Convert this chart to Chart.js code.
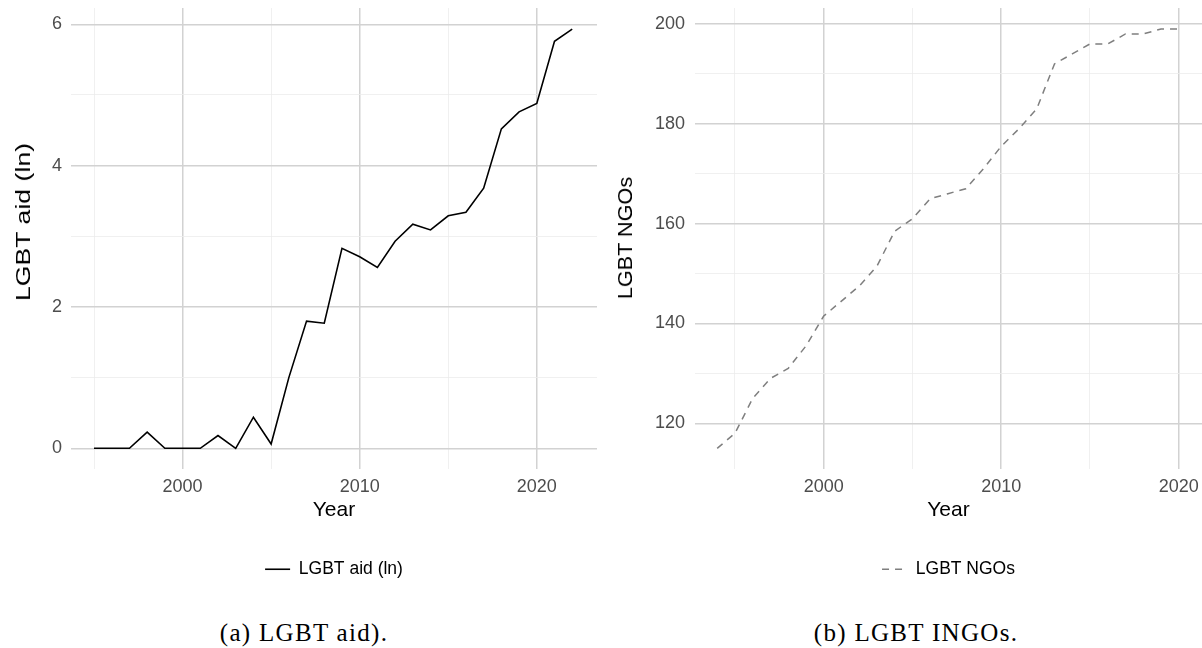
<!DOCTYPE html>
<html>
<head>
<meta charset="utf-8">
<title>LGBT aid and LGBT NGOs</title>
<script src="https://cdn.jsdelivr.net/npm/chart.js@4.4.1/dist/chart.umd.min.js"></script>
<style>
  body { margin: 0; background: #fff; width: 1202px; height: 648px; position: relative; overflow: hidden; }
  canvas { position: absolute; top: 0; }
  #aid-chart { left: 0; }
  #ngo-chart { left: 600px; }
  .y-title {
    position: absolute; white-space: nowrap; color: #000;
    font-family: "Liberation Sans", Arial, sans-serif; font-size: 21px; line-height: 24px;
  }
  .caption {
    position: absolute; top: 618px; width: 400px; text-align: center;
    font-family: "Liberation Serif", "Times New Roman", serif;
    font-size: 25px; line-height: 30px; letter-spacing: 1.3px; color: #000;
  }
</style>
</head>
<body>
<canvas id="aid-chart" width="600" height="588"></canvas>
<canvas id="ngo-chart" width="602" height="588"></canvas>
<div class="y-title" style="left:23px; top:222px; transform: translate(-50%, -50%) rotate(-90deg) scaleX(1.27);">LGBT aid (ln)</div>
<div class="y-title" style="left:625px; top:238px; transform: translate(-50%, -50%) rotate(-90deg) scaleX(1.03);">LGBT NGOs</div>
<div class="caption" style="left:104px">(a) LGBT aid).</div>
<div class="caption" style="left:716px">(b) LGBT INGOs.</div>
<script>
const aidYears = [1995, 1996, 1997, 1998, 1999, 2000, 2001, 2002, 2003, 2004, 2005, 2006, 2007, 2008,
                  2009, 2010, 2011, 2012, 2013, 2014, 2015, 2016, 2017, 2018, 2019, 2020, 2021, 2022];
const aidValues = [0, 0, 0, 0.23, 0, 0, 0, 0.18, 0, 0.44, 0.06, 1.0, 1.80, 1.77,
                   2.83, 2.71, 2.56, 2.93, 3.17, 3.09, 3.29, 3.34, 3.68, 4.52, 4.76, 4.88, 5.76, 5.93];

const ngoYears = [1994, 1995, 1996, 1997, 1998, 1999, 2000, 2001, 2002, 2003, 2004, 2005, 2006, 2007,
                  2008, 2009, 2010, 2011, 2012, 2013, 2014, 2015, 2016, 2017, 2018, 2019, 2020];
const ngoValues = [115, 118, 125, 129, 131, 135.5, 141.5, 144.5, 147.5, 151.5, 158.5, 161, 165, 166,
                   167, 171, 175.5, 179, 183, 192, 194, 196, 196, 198, 198, 199, 199];

// labelled (major) and unlabelled (minor) grid positions
const yearMajor = [2000, 2010, 2020];
const yearMinor = [1995, 2005, 2015];
const aidMajor = [0, 2, 4, 6];
const aidMinor = [1, 3, 5];
const ngoMajor = [120, 140, 160, 180, 200];
const ngoMinor = [130, 150, 170, 190];

const MAJOR_GRID = "#d2d2d2";
const MINOR_GRID = "#ececec";
const TICK_COLOR = "#4d4d4d";

Chart.defaults.font.family = '"Liberation Sans", Arial, sans-serif';
Chart.defaults.color = "#000";

function gridAxis(major, minor, min, max, tickPad, width) {
  return {
    type: "linear",
    min,
    max,
    border: { display: false },
    afterBuildTicks: (scale) => {
      scale.ticks = major.concat(minor).sort((a, b) => a - b).map(v => ({ value: v }));
    },
    afterFit: (scale) => {
      if (width) scale.width = width;
      scale.paddingTop = scale.paddingBottom = scale.paddingLeft = scale.paddingRight = 0;
    },
    grid: {
      drawTicks: false,
      color: (ctx) => major.includes(ctx.tick.value) ? MAJOR_GRID : MINOR_GRID,
      lineWidth: (ctx) => major.includes(ctx.tick.value) ? 1.5 : 0.8
    },
    ticks: {
      autoSkip: false,
      maxRotation: 0,
      padding: tickPad,
      color: TICK_COLOR,
      font: { size: 18 },
      callback: (v) => major.includes(v) ? String(v) : ""
    }
  };
}

// legend sample drawn as a short line in the dataset's own stroke and dash
function legendOptions() {
  return {
    position: "bottom",
    fullSize: false,
    labels: {
      usePointStyle: true,
      pointStyle: "line",
      pointStyleWidth: 25,
      padding: 37.6,
      color: "#000",
      font: { size: 17.5 },
      generateLabels: (chart) =>
        Chart.defaults.plugins.legend.labels.generateLabels(chart).map((item) => {
          const ds = chart.data.datasets[item.datasetIndex];
          return { ...item, strokeStyle: ds.borderColor, lineWidth: ds.borderWidth, lineDash: ds.borderDash || [] };
        })
    }
  };
}

function drawChart(id, label, years, values, lineStyle, xRange, yAxis, padding) {
  const data = years.map((year, i) => ({ x: year, y: values[i] }));
  return new Chart(document.getElementById(id), {
    type: "line",
    data: {
      datasets: [{
        label,
        data,
        pointRadius: 0,
        tension: 0,
        fill: false,
        ...lineStyle
      }]
    },
    options: {
      responsive: false,
      animation: false,
      layout: { padding },
      scales: {
        x: {
          ...gridAxis(yearMajor, yearMinor, xRange[0], xRange[1], 7),
          title: { display: true, text: "Year", color: "#000", font: { size: 21 }, padding: { top: -6.7, bottom: 0 } }
        },
        y: yAxis
      },
      plugins: {
        legend: legendOptions(),
        tooltip: { enabled: false }
      }
    }
  });
}

drawChart("aid-chart", "LGBT aid (ln)", aidYears, aidValues,
  { borderColor: "#000", backgroundColor: "#000", borderWidth: 1.6 },
  [1993.7, 2023.4],
  gridAxis(aidMajor, aidMinor, -0.29, 6.23, 9, 71),
  { top: 8, right: 3, left: 0, bottom: 0 });

drawChart("ngo-chart", "LGBT NGOs", ngoYears, ngoValues,
  { borderColor: "#7f7f7f", backgroundColor: "#7f7f7f", borderWidth: 1.5, borderDash: [7, 6] },
  [1992.75, 2021.31],
  gridAxis(ngoMajor, ngoMinor, 110.9, 203.2, 10, 95),
  { top: 8, right: 0, left: 0, bottom: 0 });
</script>
</body>
</html>
